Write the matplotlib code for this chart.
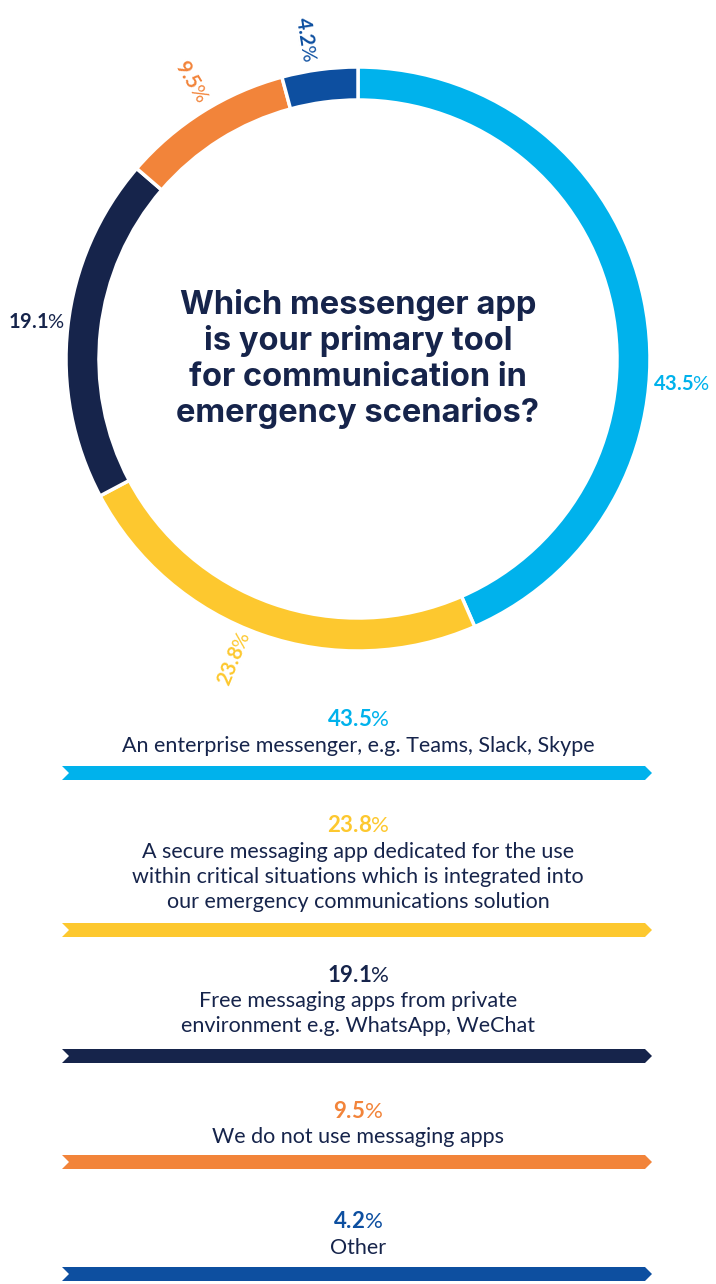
import numpy as np
import matplotlib
matplotlib.use("Agg")
import matplotlib.pyplot as plt
from matplotlib.patches import Polygon

# survey answers, clockwise from 12 o'clock
shares = [43.5, 23.8, 19.1, 9.5, 4.2]
answers = [
    "An enterprise messenger, e.g. Teams, Slack, Skype",
    "A secure messaging app dedicated for the use\nwithin critical situations which is integrated into\nour emergency communications solution",
    "Free messaging apps from private\nenvironment e.g. WhatsApp, WeChat",
    "We do not use messaging apps",
    "Other",
]
colors = ["#00B2EC", "#FDC82F", "#16244B", "#F2843A", "#0D4FA0"]
question = "Which messenger app\nis your primary tool\nfor communication in\nemergency scenarios?"

NAVY = "#16244B"
W, H = 716, 1284
CX, CY, R = 358, 359, 292   # donut centre and outer radius in px
RING = 33                   # ring thickness in px
# small angular nudges (deg) so ring labels sit clear of each other
label_nudge = [-16, -3, 0, -1, 2]

plt.rcParams["font.family"] = ["Lato", "DejaVu Sans"]
plt.rcParams["mathtext.fontset"] = "custom"
plt.rcParams["mathtext.rm"] = "Lato"
plt.rcParams["mathtext.bf"] = "Lato:bold"


def pct_label(v):
    return r"$\mathbf{%s}$%%" % f"{v:.1f}"


fig = plt.figure(figsize=(W / 100, H / 100), dpi=100)

# donut axes: one data unit = outer radius
ax = fig.add_axes([0, 0, 1, 1])
ax.pie(
    shares,
    colors=colors,
    startangle=90,
    counterclock=False,
    radius=1,
    wedgeprops=dict(width=RING / R, edgecolor="white", linewidth=2.5),
)
ax.set_xlim(-CX / R, (W - CX) / R)
ax.set_ylim(-(H - CY) / R, CY / R)
ax.set_aspect("auto")
ax.axis("off")

# percentage labels around the ring, turned along the radius
cum = np.cumsum([0] + shares[:-1])
for v, c0, col, nudge in zip(shares, cum, colors, label_nudge):
    theta = 90 - (c0 + v / 2) * 3.6 + nudge
    t = np.deg2rad(theta)
    rot = (theta + 90) % 180 - 90
    if abs(rot) < 15:
        rot = 0
    ax.text(1.11 * np.cos(t), 1.11 * np.sin(t), pct_label(v), color=col,
            fontsize=14.5, rotation=rot, rotation_mode="anchor",
            ha="center", va="center")

ax.text(0, 0.0, question, ha="center", va="center", color=NAVY,
        fontsize=23.5, fontweight="bold", family=["Inter", "DejaVu Sans"],
        linespacing=1.18)

# legend column with arrow bars, in pixel coordinates
lg = fig.add_axes([0, 0, 1, 1])
lg.set_xlim(0, W)
lg.set_ylim(H, 0)
lg.axis("off")

pct_y = [720, 826, 975, 1111, 1222]
bar_y = [773, 930, 1056, 1162, 1274]
x0, x1, bh, tip = 62, 652, 14, 7
for v, txt, col, py, by in zip(shares, answers, colors, pct_y, bar_y):
    lg.text(CX, py, pct_label(v), color=col, fontsize=16,
            ha="center", va="center")
    lg.text(CX, py + 16, txt, color=NAVY, fontsize=15.5,
            ha="center", va="top", linespacing=1.32)
    pts = [(x0, by - bh / 2), (x1 - tip, by - bh / 2), (x1, by),
           (x1 - tip, by + bh / 2), (x0, by + bh / 2), (x0 + tip, by)]
    lg.add_patch(Polygon(pts, closed=True, facecolor=col, edgecolor="none"))

fig.savefig("out.png", dpi=100, facecolor="white")
